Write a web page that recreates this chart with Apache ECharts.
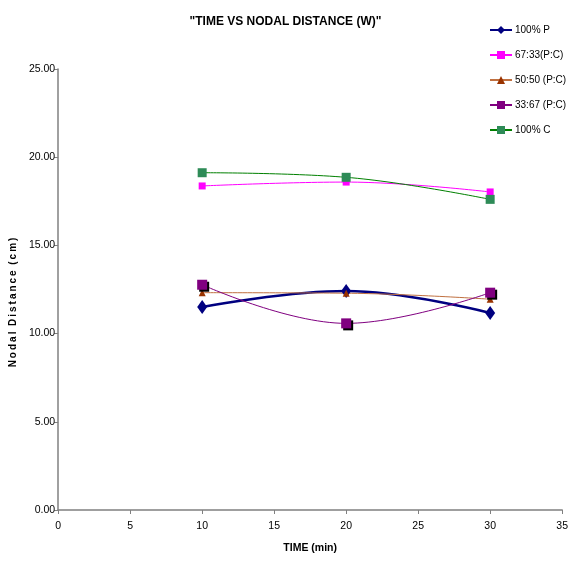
<!DOCTYPE html>
<html><head><meta charset="utf-8">
<script src="https://cdn.jsdelivr.net/npm/echarts@6/dist/echarts.min.js"></script>
<style>html,body{margin:0;padding:0;background:#fff;overflow:hidden}#c{width:571px;height:565px}</style>
</head><body><div id="c"></div>
<script>
const times = [10, 20, 30];
const seriesNames = ['100% P', '67:33(P:C)', '50:50 (P:C)', '33:67 (P:C)', '100% C'];
const p100 = [11.51, 12.41, 11.17];
const p67 = [18.37, 18.59, 18.03];
const p50 = [12.32, 12.29, 11.95];
const p33 = [12.77, 10.58, 12.32];
const c100 = [19.12, 18.86, 17.61];
const xTicks = [0, 5, 10, 15, 20, 25, 30, 35];
const yTicks = [0, 5, 10, 15, 20, 25];

const font = '"Liberation Sans Narrow", "Arial Narrow", "Liberation Sans", Arial, sans-serif';
const styles = [
  {color:'#000080', symbol:'diamond', size:[10,14], width:2.5},
  {color:'#ff00ff', symbol:'rect', size:7, width:1},
  {color:'#993300', symbol:'triangle', size:7, width:1, line:'#c07040'},
  {color:'#800080', symbol:'rect', size:10, width:1},
  {color:'#2e8b57', symbol:'rect', size:9, width:1, line:'#008000'}
];
const datas = [p100, p67, p50, p33, c100];
const series = datas.map((d, i) => ({
  name: seriesNames[i],
  type: 'line',
  smooth: 0.4,
  data: d.map((v, j) => [times[j], v]),
  symbol: styles[i].symbol,
  symbolSize: styles[i].size,
  showAllSymbol: true,
  lineStyle: {color: styles[i].line || styles[i].color, width: styles[i].width},
  itemStyle: {color: styles[i].color, shadowColor: i===3 ? '#000' : 'transparent', shadowOffsetX: i===3?2:0, shadowOffsetY: i===3?2:0},
  emphasis: {disabled: true}
}));

const chart = echarts.init(document.getElementById('c'), null, {renderer:'canvas'});
chart.setOption({
  animation: false,
  backgroundColor: '#fff',
  title: {
    text: '"TIME VS NODAL DISTANCE (W)"',
    left: 'center', top: 11,
    textStyle: {fontFamily: font, fontSize: 12, fontWeight: 'bold', color: '#000'}
  },
  legend: {
    orient: 'vertical',
    left: 484, top: 20,
    itemWidth: 22, itemHeight: 10, itemGap: 15,
    textStyle: {fontFamily: font, fontSize: 10, color: '#000', padding: [0, 0, 0, -2]},
    data: seriesNames
  },
  grid: {left: 56, right: 7, top: 69, bottom: 55, containLabel: false},
  xAxis: {
    type: 'value', min: 0, max: 35, interval: 5,
    name: 'TIME (min)', nameLocation: 'middle', nameGap: 33,
    nameTextStyle: {fontFamily: font, fontSize: 10.5, fontWeight: 'bold', color: '#000'},
    axisLine: {show: true, lineStyle: {color: '#808080', width: 1.5}},
    axisTick: {show: true, inside: false, length: 4, lineStyle: {color: '#808080'}},
    axisLabel: {fontFamily: font, fontSize: 10.5, color: '#000', margin: 11},
    splitLine: {show: false}
  },
  yAxis: {
    type: 'value', min: 0, max: 25, interval: 5,
    name: 'N\u2009o\u2009d\u2009a\u2009l  D\u2009i\u2009s\u2009t\u2009a\u2009n\u2009c\u2009e  (\u2009c\u2009m\u2009)', nameLocation: 'middle', nameGap: 27,
    nameTextStyle: {fontFamily: font, fontSize: 10, fontWeight: 'bold', color: '#000', padding: [0, 26, 0, 0]},
    axisLine: {show: true, lineStyle: {color: '#808080', width: 1.5}},
    axisTick: {show: true, inside: false, length: 4, lineStyle: {color: '#808080'}},
    axisLabel: {fontFamily: font, fontSize: 10.5, color: '#000', margin: 3, formatter: v => v.toFixed(2)},
    splitLine: {show: false}
  },
  series: series
});
</script></body></html>
